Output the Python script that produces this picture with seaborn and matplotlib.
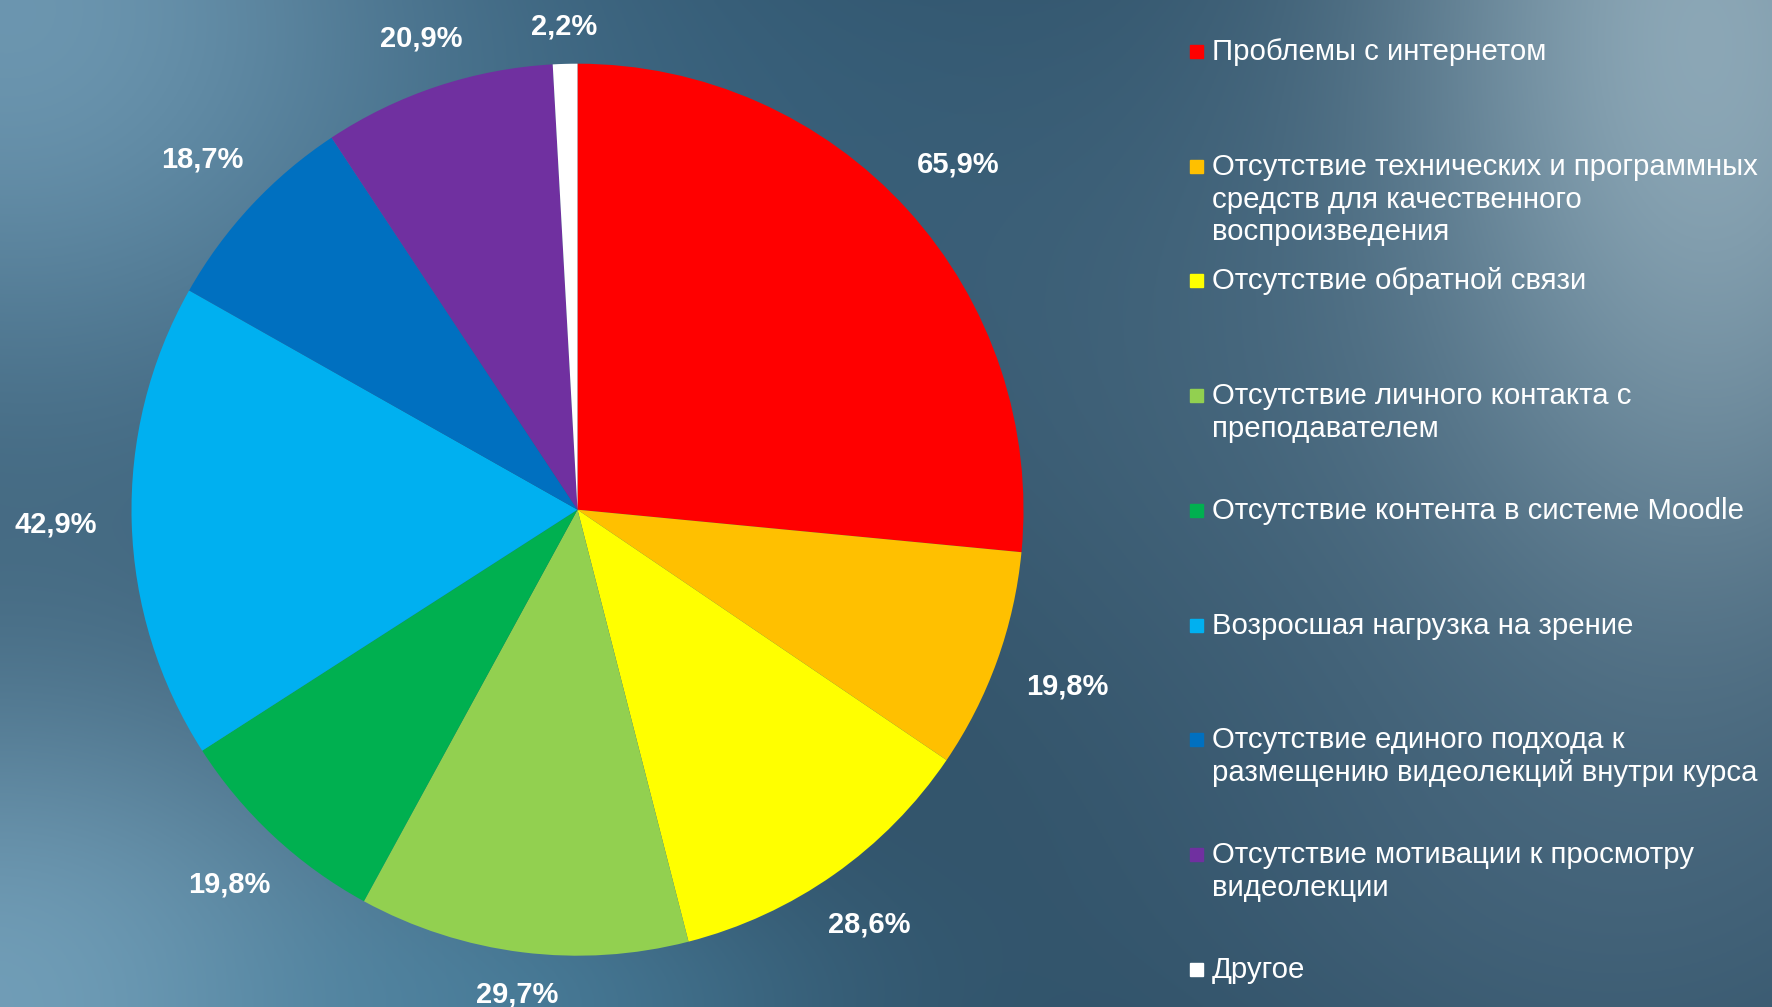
import numpy as np
import matplotlib
matplotlib.use('Agg')
import matplotlib.pyplot as plt
import seaborn as sns

sns.set_theme(style='white')
plt.rcParams['font.family'] = ['Liberation Sans', 'DejaVu Sans']

categories = ['Проблемы с интернетом',
              'Отсутствие технических и программных\nсредств для качественного\nвоспроизведения',
              'Отсутствие обратной связи',
              'Отсутствие личного контакта с\nпреподавателем',
              'Отсутствие контента в системе Moodle',
              'Возросшая нагрузка на зрение',
              'Отсутствие единого подхода к\nразмещению видеолекций внутри курса',
              'Отсутствие мотивации к просмотру\nвидеолекции',
              'Другое']
values = [65.9, 19.8, 28.6, 29.7, 19.8, 42.9, 18.7, 20.9, 2.2]
colors = ['#FF0000', '#FFC000', '#FFFF00', '#92D050', '#00B050',
          '#00B0F0', '#0070C0', '#7030A0', '#FFFFFF']

W, H = 1772, 1007
fig = plt.figure(figsize=(W / 100, H / 100), dpi=100)

# background gradient (decoration only)
bg = fig.add_axes([0, 0, 1, 1])
yy, xx = np.mgrid[0:H:2, 0:W:2]
img = np.ones(xx.shape + (3,)) * np.array([0.17, 0.30, 0.39])
def blend(img, cx, cy, sx, sy, amp, col):
    w = amp * np.exp(-(((xx - cx) / sx) ** 2 + ((yy - cy) / sy) ** 2))
    return img * (1 - w[..., None]) + np.array(col)[None, None, :] * w[..., None]
img = blend(img, 450, 150, 700, 350, 0.45, [0.25, 0.45, 0.58])
img = blend(img, 0, 0, 450, 420, 0.75, [0.50, 0.67, 0.77])
img = blend(img, 1700, 60, 330, 600, 0.8, [0.65, 0.75, 0.80])
img = blend(img, 1250, 400, 450, 400, 0.3, [0.40, 0.52, 0.60])
img = blend(img, 1550, 900, 450, 300, 0.3, [0.36, 0.48, 0.57])
img = blend(img, 0, 1007, 500, 380, 0.8, [0.52, 0.70, 0.80])
img = blend(img, 500, 1007, 350, 150, 0.5, [0.30, 0.55, 0.68])
img = np.clip(img, 0, 1)
bg.imshow(img, aspect='auto', extent=[0, 1, 0, 1])
bg.axis('off')

# pie
cx, cy, r = 577.5, 509.7, 446
ax = fig.add_axes([(cx - r) / W, (H - cy - r) / H, 2 * r / W, 2 * r / H])
wedges, _ = ax.pie(values, colors=colors, startangle=90, counterclock=False,
                   wedgeprops=dict(linewidth=0))
ax.set_xlim(-1, 1)
ax.set_ylim(-1, 1)
ax.axis('off')

# value labels just outside each wedge
for w, v in zip(wedges, values):
    a = np.deg2rad((w.theta1 + w.theta2) / 2)
    d = 1.07 + 0.10 * abs(np.cos(a)) + 0.012 * abs(np.sin(a))
    ax.text(d * np.cos(a), d * np.sin(a), f'{v:.1f}%'.replace('.', ','),
            color='white', fontsize=21, fontweight='bold',
            ha='center', va='center')

# legend
x_sq, x_txt = 1190, 1212
for i, (lab, c) in enumerate(zip(categories, colors)):
    y = 51 + i * 114.7
    fig.patches.append(plt.Rectangle((x_sq / W, 1 - (y + 7) / H), 13 / W, 13 / H,
                                     transform=fig.transFigure, color=c))
    fig.text(x_txt / W, 1 - (y - 13) / H, lab, color='white', fontsize=21.2,
             va='top', ha='left', linespacing=1.22)

fig.savefig('out.png', dpi=100)
